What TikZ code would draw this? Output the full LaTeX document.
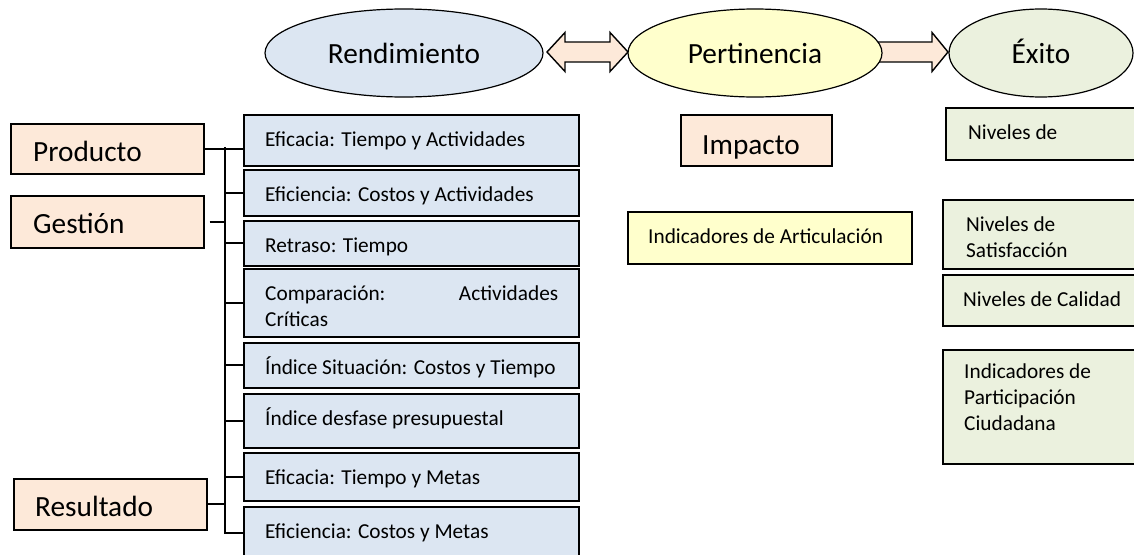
\documentclass[tikz,border=0pt]{standalone}
\usepackage{fontspec}
\setmainfont{Carlito}
\usetikzlibrary{calc,shapes.geometric}
\definecolor{blueF}{HTML}{DCE6F2}
\definecolor{yellowF}{HTML}{FFFFCC}
\definecolor{greenF}{HTML}{EBF1DE}
\definecolor{peachF}{HTML}{FDE9D9}
\begin{document}
\begin{tikzpicture}[x=1pt,y=-1pt,
  box/.style={draw=black, line width=1.6pt, rectangle, inner sep=0pt, anchor=north west},
  bluebox/.style={box, fill=blueF, minimum width=335pt},
  greenbox/.style={box, fill=greenF, minimum width=200pt},
  peachbox/.style={box, fill=peachF},
  ell/.style={draw=black, line width=1.2pt, ellipse, inner sep=0pt, minimum height=88pt,
    font=\fontsize{29.3}{36}\selectfont, text height=20pt, text depth=0pt},
  small/.style={font=\fontsize{21.3}{26}\selectfont, inner sep=0pt, anchor=north west, align=left},
  big/.style={font=\fontsize{29.3}{36}\selectfont, inner sep=0pt, anchor=base west},
  link/.style={line width=1.8pt},
  blockarrow/.style={draw=black, line width=1.4pt, fill=peachF, line join=miter}]
\useasboundingbox (0,0) rectangle (1134,554);
\clip (0,0) rectangle (1134,554);

% block arrows (drawn first, ellipses cover their ends)
\draw[blockarrow] (547,52) -- (565,32.5) -- (565,42) -- (610,42) -- (610,32.5) -- (628,52)
  -- (610,71.5) -- (610,62) -- (565,62) -- (565,71.5) -- cycle;
\draw[blockarrow] (870,42) -- (932,42) -- (932,32.5) -- (948,52) -- (932,71.5) -- (932,62) -- (870,62) -- cycle;

% ellipses
\node[ell, fill=blueF, minimum width=278pt] (rend) at (404,53) {Rendimiento};
\node[ell, fill=yellowF, minimum width=254pt] (pert) at (755,53) {Pertinencia};
\node[ell, fill=greenF, minimum width=184pt] (exito) at (1041,53) {Éxito};

% left category boxes
\node[peachbox, minimum width=193pt, minimum height=50pt] (prod) at (10,123) {};
\node[big] (prodT) at ($(prod.north west)+(23,38)$) {Producto};
\node[peachbox, minimum width=193pt, minimum height=52pt] (gest) at (10,195) {};
\node[big] (gestT) at ($(gest.north west)+(23,38)$) {Gestión};
\node[peachbox, minimum width=193pt, minimum height=51pt] (res) at (13,478) {};
\node[big] (resT) at ($(res.north west)+(22,38)$) {Resultado};

% blue indicator boxes
\node[bluebox, minimum height=51pt] (b1) at (243,114) {};
\node[bluebox, minimum height=46pt] (b2) at (243,169) {};
\node[bluebox, minimum height=45pt] (b3) at (243,220) {};
\node[bluebox, minimum height=68pt] (b4) at (243,268) {};
\node[bluebox, minimum height=45pt] (b5) at (243,342) {};
\node[bluebox, minimum height=54pt] (b6) at (243,393) {};
\node[bluebox, minimum height=48pt] (b7) at (243,452) {};
\node[bluebox, minimum height=60pt] (b8) at (243,506) {};
\node[small] (t1) at ($(b1.north west)+(22,13.8)$) {\strut Eficacia: Tiempo y Actividades};
\node[small] (t2) at ($(b2.north west)+(22,13.8)$) {\strut Eficiencia: Costos y Actividades};
\node[small] (t3) at ($(b3.north west)+(22,13.8)$) {\strut Retraso: Tiempo};
\node[small] (t4) at ($(b4.north west)+(22,13.8)$) {\strut\makebox[293pt][l]{Comparación:\hfill Actividades}\\\strut Críticas};
\node[small] (t5) at ($(b5.north west)+(22,13.8)$) {\strut Índice Situación: Costos y Tiempo};
\node[small] (t6) at ($(b6.north west)+(22,13.8)$) {\strut Índice desfase presupuestal};
\node[small] (t7) at ($(b7.north west)+(22,13.8)$) {\strut Eficacia: Tiempo y Metas};
\node[small] (t8) at ($(b8.north west)+(22,13.8)$) {\strut Eficiencia: Costos y Metas};

% tree connectors
\coordinate (ttop) at (225,147);
\coordinate (tbot) at (225,533);
\draw[link] (ttop) -- (tbot) -- (tbot -| b8.west);
\draw[link] (prod.east) -- (prod.east -| b1.west);
\draw[link] ($(gest.east)+(5,0)$) -- (gest.east -| ttop);
\draw[link] (res.east) -- (res.east -| ttop);
\foreach \b in {b2,b3,b4,b5,b6,b7}{
  \draw[link] (\b.west -| ttop) -- (\b.west);
}

% pertinencia column
\node[peachbox, minimum width=151pt, minimum height=51pt] (imp) at (680,114) {};
\node[big] (impT) at ($(imp.north west)+(22,40)$) {Impacto};
\node[box, fill=yellowF, minimum width=284pt, minimum height=52pt] (art) at (627,211) {};
\node[small] (artT) at ($(art.north west)+(21,13.8)$) {\strut Indicadores de Articulación};

% exito column
\node[greenbox, minimum height=52pt] (g1) at (945,107) {};
\node[greenbox, minimum height=69pt] (g2) at (942,199) {};
\node[greenbox, minimum height=51pt] (g3) at (942,274) {};
\node[greenbox, minimum height=114pt] (g4) at (942,349) {};
\node[small] (g1T) at ($(g1.north west)+(23,13.8)$) {\strut Niveles de};
\node[small] (g2T) at ($(g2.north west)+(24,13.8)$) {\strut Niveles de\\\strut Satisfacción};
\node[small] (g3T) at ($(g3.north west)+(21,13.8)$) {\strut Niveles de Calidad};
\node[small] (g4T) at ($(g4.north west)+(22,10.8)$) {\strut Indicadores de\\\strut Participación\\\strut Ciudadana};
\end{tikzpicture}
\end{document}
